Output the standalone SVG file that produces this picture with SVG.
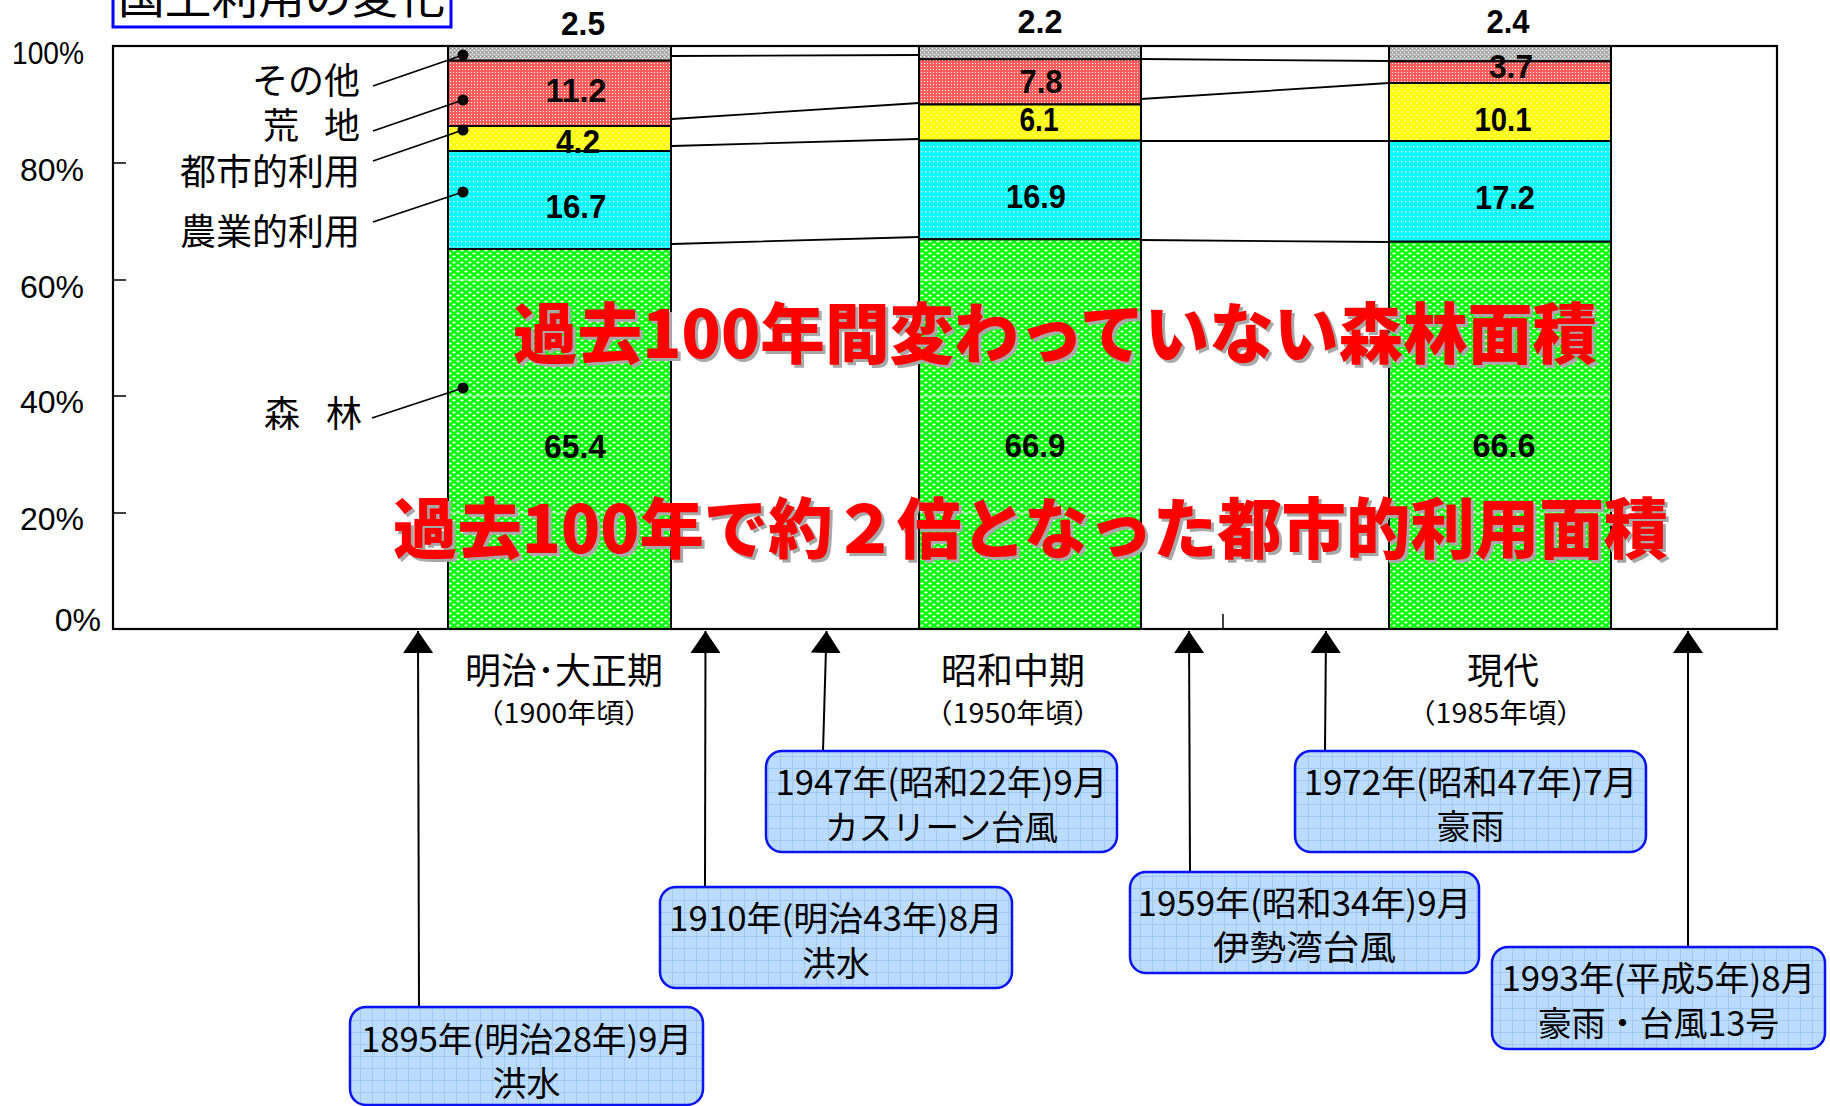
<svg xmlns="http://www.w3.org/2000/svg" width="1830" height="1106" viewBox="0 0 1830 1106">
<style>
.jp{font-family:'Noto Sans CJK JP',sans-serif;fill:#000}
.ax{font-family:'Liberation Sans',sans-serif;font-size:32px;fill:#000}
.val{font-family:'Liberation Sans',sans-serif;font-size:34px;font-weight:bold;fill:#000;text-anchor:middle}
.cat{font-size:36px}
.per{font-size:36px;text-anchor:middle}
.yr{font-size:27px;text-anchor:middle}
.ev{font-size:34px;text-anchor:middle}
.seg{stroke:#000;stroke-width:2}
.ln{stroke:#000;stroke-width:1.8;fill:none}
.arr{stroke:#000;stroke-width:2;fill:none;marker-end:url(#ah)}
.box{fill:url(#pBox);stroke:#0a14f0;stroke-width:2.5}
.big{font-family:'Noto Sans CJK JP',sans-serif;font-size:66px;font-weight:900}
</style>
<defs>
<pattern id="pGreen" width="8" height="6" patternUnits="userSpaceOnUse">
<rect width="8" height="6" fill="#00ff00"/>
<ellipse cx="2" cy="1.5" rx="1.7" ry="0.9" fill="#fff"/>
<ellipse cx="6" cy="4.5" rx="1.7" ry="0.9" fill="#fff"/>
</pattern>
<pattern id="pCyan" width="4" height="5" patternUnits="userSpaceOnUse">
<rect width="4" height="5" fill="#00ffff"/>
<rect x="1" y="1" width="1.3" height="1.3" fill="#fff"/>
</pattern>
<pattern id="pYellow" width="6" height="6" patternUnits="userSpaceOnUse">
<rect width="6" height="6" fill="#ffff00"/>
<circle cx="1" cy="1" r="0.8" fill="#fff"/>
<circle cx="4" cy="4" r="0.8" fill="#fff"/>
</pattern>
<pattern id="pRed" width="3" height="3" patternUnits="userSpaceOnUse">
<rect width="3" height="3" fill="#ff5c5c"/>
<rect width="1" height="1" fill="#fff"/>
</pattern>
<pattern id="pGray" width="4" height="4" patternUnits="userSpaceOnUse">
<rect width="4" height="4" fill="#b4b4b4"/>
<rect width="1" height="1" fill="#fff"/>
<rect x="2" y="2" width="1" height="1" fill="#fff"/>
<rect x="2" y="0" width="1" height="1" fill="#808080"/>
</pattern>
<pattern id="pBox" width="12" height="12" patternUnits="userSpaceOnUse">
<rect width="12" height="12" fill="#bcdcff"/>
<path d="M0,0.5H12M0.5,0V12" stroke="#a2c9f4" stroke-width="1"/>
</pattern>
<marker id="ah" viewBox="0 0 22 30" refX="22" refY="15" markerWidth="22" markerHeight="30" markerUnits="userSpaceOnUse" orient="auto">
<path d="M0,0L22,15L0,30z" fill="#000"/>
</marker>
</defs>
<rect width="1830" height="1106" fill="#fff"/>

<g id="title">
<rect x="113" y="-30" width="338" height="57" fill="#fff" stroke="#0000ff" stroke-width="3"/>
<text class="jp" x="118" y="14" font-size="44" textLength="327" lengthAdjust="spacingAndGlyphs">国土利用の変化</text>
</g>

<g id="plot-frame">
<rect x="113" y="46" width="1664" height="583" fill="#fff"/>
</g>

<g id="y-axis">
<text class="ax" x="12" y="64" textLength="72" lengthAdjust="spacingAndGlyphs">100%</text>
<text class="ax" x="84" y="181" text-anchor="end">80%</text>
<text class="ax" x="84" y="298" text-anchor="end">60%</text>
<text class="ax" x="84" y="413" text-anchor="end">40%</text>
<text class="ax" x="84" y="530" text-anchor="end">20%</text>
<text class="ax" x="101" y="631" text-anchor="end">0%</text>
</g>

<g id="bar-1900">
<rect class="seg" x="448" y="46" width="223" height="14.7" fill="url(#pGray)"/>
<rect class="seg" x="448" y="60.7" width="223" height="65.3" fill="url(#pRed)"/>
<rect class="seg" x="448" y="126" width="223" height="25" fill="url(#pYellow)"/>
<rect class="seg" x="448" y="151" width="223" height="98" fill="url(#pCyan)"/>
<rect class="seg" x="448" y="249" width="223" height="380" fill="url(#pGreen)"/>
</g>
<g id="bar-1950">
<rect class="seg" x="919" y="46" width="222" height="13.3" fill="url(#pGray)"/>
<rect class="seg" x="919" y="59.3" width="222" height="45.2" fill="url(#pRed)"/>
<rect class="seg" x="919" y="104.5" width="222" height="36.2" fill="url(#pYellow)"/>
<rect class="seg" x="919" y="140.7" width="222" height="98.6" fill="url(#pCyan)"/>
<rect class="seg" x="919" y="239.3" width="222" height="389.7" fill="url(#pGreen)"/>
</g>
<g id="bar-1985">
<rect class="seg" x="1389" y="46" width="222" height="15.3" fill="url(#pGray)"/>
<rect class="seg" x="1389" y="61.3" width="222" height="21.7" fill="url(#pRed)"/>
<rect class="seg" x="1389" y="83" width="222" height="58" fill="url(#pYellow)"/>
<rect class="seg" x="1389" y="141" width="222" height="100.7" fill="url(#pCyan)"/>
<rect class="seg" x="1389" y="241.7" width="222" height="387.3" fill="url(#pGreen)"/>
</g>

<g id="gridlines" stroke="#fff" stroke-width="1" opacity="0.8">
<path d="M449,280H670M920,280H1140M1390,280H1610M449,396H670M920,396H1140M1390,396H1610M449,513H670M920,513H1140M1390,513H1610"/>
</g>

<g id="frame-lines">
<rect x="113" y="46" width="1664" height="583" fill="none" stroke="#000" stroke-width="2.2"/>
<path d="M113,163H126M113,280H126M113,396H126M113,513H126" stroke="#000" stroke-width="1.5"/>
<path d="M1223,614V629" stroke="#000" stroke-width="1.5"/>
</g>

<g id="values">
<text class="val" x="583" y="35" textLength="44" lengthAdjust="spacingAndGlyphs">2.5</text>
<text class="val" x="576" y="102" textLength="61" lengthAdjust="spacingAndGlyphs">11.2</text>
<text class="val" x="578" y="153" textLength="44" lengthAdjust="spacingAndGlyphs">4.2</text>
<text class="val" x="576" y="218" textLength="61" lengthAdjust="spacingAndGlyphs">16.7</text>
<text class="val" x="575" y="458" textLength="62" lengthAdjust="spacingAndGlyphs">65.4</text>
<text class="val" x="1040" y="33" textLength="45" lengthAdjust="spacingAndGlyphs">2.2</text>
<text class="val" x="1041" y="93" textLength="43" lengthAdjust="spacingAndGlyphs">7.8</text>
<text class="val" x="1039" y="131" textLength="39" lengthAdjust="spacingAndGlyphs">6.1</text>
<text class="val" x="1036" y="208" textLength="60" lengthAdjust="spacingAndGlyphs">16.9</text>
<text class="val" x="1035" y="457" textLength="61" lengthAdjust="spacingAndGlyphs">66.9</text>
<text class="val" x="1508" y="33" textLength="43" lengthAdjust="spacingAndGlyphs">2.4</text>
<text class="val" x="1511" y="78" textLength="44" lengthAdjust="spacingAndGlyphs">3.7</text>
<text class="val" x="1503" y="131" textLength="57" lengthAdjust="spacingAndGlyphs">10.1</text>
<text class="val" x="1505" y="209" textLength="60" lengthAdjust="spacingAndGlyphs">17.2</text>
<text class="val" x="1504" y="457" textLength="63" lengthAdjust="spacingAndGlyphs">66.6</text>
</g>

<g id="category-labels" class="jp">
<text class="jp cat" x="360" y="94" text-anchor="end">その他</text>
<text class="jp cat" x="263" y="139">荒</text>
<text class="jp cat" x="324" y="139">地</text>
<text class="jp cat" x="360" y="185" text-anchor="end">都市的利用</text>
<text class="jp cat" x="360" y="245" text-anchor="end">農業的利用</text>
<text class="jp cat" x="264" y="427">森</text>
<text class="jp cat" x="326" y="427">林</text>
</g>

<g id="connectors">
<path class="ln" d="M672,56L919,55M672,119L919,103M672,146L919,139M672,244L919,237"/>
<path class="ln" d="M1141,59L1389,61M1141,99L1389,83M1141,141L1389,141M1141,240L1389,242"/>
<path class="ln" d="M373,86L463,55M373,131L463,100M373,161L463,130M373,222L463,192M372,418L463,388"/>
<g fill="#000">
<circle cx="463" cy="55" r="5.5"/>
<circle cx="463" cy="100" r="5.5"/>
<circle cx="463" cy="130" r="5.5"/>
<circle cx="463" cy="192" r="5.5"/>
<circle cx="463" cy="388" r="5.5"/>
</g>
<line class="arr" x1="419" y1="1007" x2="418" y2="631"/>
<line class="arr" x1="705" y1="887" x2="705.5" y2="631"/>
<line class="arr" x1="823" y1="751" x2="826.5" y2="631"/>
<line class="arr" x1="1190" y1="872" x2="1189" y2="631"/>
<line class="arr" x1="1325" y1="751" x2="1326" y2="631"/>
<line class="arr" x1="1688" y1="947" x2="1688" y2="631"/>
</g>

<g id="headline-forest">
<text class="big" x="516" y="361" fill="#a8a8a8" textLength="1084" lengthAdjust="spacingAndGlyphs">過去100年間変わっていない森林面積</text>
<text class="big" x="513" y="358" fill="#ff0000" textLength="1084" lengthAdjust="spacingAndGlyphs">過去100年間変わっていない森林面積</text>
</g>
<g id="headline-urban">
<text class="big" x="396" y="556" fill="#a8a8a8" textLength="1275" lengthAdjust="spacingAndGlyphs">過去100年で約２倍となった都市的利用面積</text>
<text class="big" x="393" y="553" fill="#ff0000" textLength="1275" lengthAdjust="spacingAndGlyphs">過去100年で約２倍となった都市的利用面積</text>
</g>

<g id="period-1900">
<text class="jp per" x="564" y="684">明治･大正期</text>
<text class="jp yr" x="564" y="723" textLength="178" lengthAdjust="spacingAndGlyphs">（1900年頃）</text>
</g>
<g id="period-1950">
<text class="jp per" x="1013" y="684">昭和中期</text>
<text class="jp yr" x="1013" y="723" textLength="178" lengthAdjust="spacingAndGlyphs">（1950年頃）</text>
</g>
<g id="period-1985">
<text class="jp per" x="1503" y="684">現代</text>
<text class="jp yr" x="1496" y="723" textLength="178" lengthAdjust="spacingAndGlyphs">（1985年頃）</text>
</g>

<g id="event-1895">
<rect class="box" x="350" y="1007" width="353" height="98" rx="16"/>
<text class="jp ev" x="526.5" y="1052" textLength="331" lengthAdjust="spacingAndGlyphs">1895年(明治28年)9月</text>
<text class="jp ev" x="526.5" y="1096">洪水</text>
</g>
<g id="event-1910">
<rect class="box" x="660" y="887" width="352" height="101" rx="16"/>
<text class="jp ev" x="836" y="931" textLength="334" lengthAdjust="spacingAndGlyphs">1910年(明治43年)8月</text>
<text class="jp ev" x="836" y="976">洪水</text>
</g>
<g id="event-1947">
<rect class="box" x="766" y="751" width="351" height="101" rx="16"/>
<text class="jp ev" x="941.5" y="795" textLength="332" lengthAdjust="spacingAndGlyphs">1947年(昭和22年)9月</text>
<text class="jp ev" x="941.5" y="840" textLength="233" lengthAdjust="spacingAndGlyphs">カスリーン台風</text>
</g>
<g id="event-1959">
<rect class="box" x="1130" y="872" width="349" height="101" rx="16"/>
<text class="jp ev" x="1304.5" y="916" textLength="334" lengthAdjust="spacingAndGlyphs">1959年(昭和34年)9月</text>
<text class="jp ev" x="1304.5" y="960" textLength="183" lengthAdjust="spacingAndGlyphs">伊勢湾台風</text>
</g>
<g id="event-1972">
<rect class="box" x="1295" y="751" width="351" height="101" rx="16"/>
<text class="jp ev" x="1470.5" y="795" textLength="334" lengthAdjust="spacingAndGlyphs">1972年(昭和47年)7月</text>
<text class="jp ev" x="1470.5" y="839">豪雨</text>
</g>
<g id="event-1993">
<rect class="box" x="1492" y="947" width="333" height="102" rx="16"/>
<text class="jp ev" x="1658.5" y="991" textLength="314" lengthAdjust="spacingAndGlyphs">1993年(平成5年)8月</text>
<text class="jp ev" x="1658.5" y="1036">豪雨・台風13号</text>
</g>
</svg>
